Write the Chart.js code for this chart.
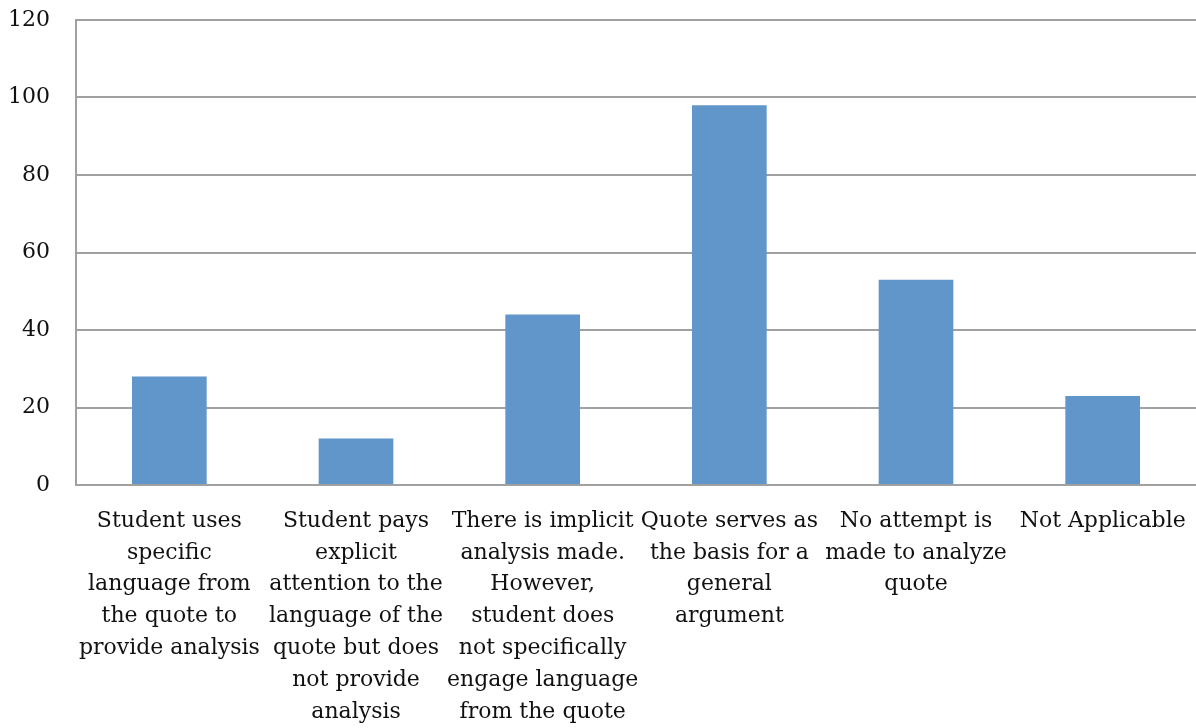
<!DOCTYPE html>
<html>
<head>
<meta charset="utf-8">
<script src="https://cdn.jsdelivr.net/npm/chart.js@4/dist/chart.umd.min.js"></script>
<style>
  html, body { margin: 0; padding: 0; background: #fff; }
  #wrap { width: 1196px; height: 728px; }
</style>
</head>
<body>
<div id="wrap"><canvas id="c" width="1196" height="728"></canvas></div>
<script>
// Category labels, split into the lines they wrap to under each bar
const categories = [
  ["Student uses", "specific", "language from", "the quote to", "provide analysis"],
  ["Student pays", "explicit", "attention to the", "language of the", "quote but does", "not provide", "analysis"],
  ["There is implicit", "analysis made.", "However,", "student does", "not specifically", "engage language", "from the quote"],
  ["Quote serves as", "the basis for a", "general", "argument"],
  ["No attempt is", "made to analyze", "quote"],
  ["Not Applicable"]
];
// Number of responses per category
const counts = [28, 12, 44, 98, 53, 23];
// Value axis ticks
const yTicks = [0, 20, 40, 60, 80, 100, 120];

const fontFamily = "'DejaVu Serif', 'Liberation Serif', serif";

new Chart(document.getElementById('c'), {
  type: 'bar',
  data: {
    labels: categories,
    datasets: [{
      data: counts,
      backgroundColor: '#6096CA',
      borderWidth: 0,
      categoryPercentage: 1,
      barPercentage: 0.4
    }]
  },
  options: {
    responsive: false,
    animation: false,
    layout: { padding: { top: 20, right: 0, bottom: 0, left: 0 } },
    plugins: { legend: { display: false }, tooltip: { enabled: false } },
    scales: {
      x: {
        grid: { display: false, drawTicks: false },
        border: { display: true, color: '#a0a0a0', width: 2 },
        ticks: {
          autoSkip: false,
          maxRotation: 0,
          minRotation: 0,
          padding: 20,
          color: '#111',
          font: { family: fontFamily, size: 22, lineHeight: 1.45 }
        },
        afterFit(scale) {
          scale.height = 243;
          scale.paddingLeft = 0;
          scale.paddingRight = 0;
        }
      },
      y: {
        min: 0,
        max: 120,
        afterBuildTicks(scale) { scale.ticks = yTicks.map(v => ({ value: v })); },
        grid: { color: '#a0a0a0', lineWidth: 2, drawTicks: false },
        border: { display: true, color: '#a0a0a0', width: 2 },
        ticks: {
          padding: 26,
          color: '#111',
          font: { family: fontFamily, size: 22 }
        },
        afterFit(scale) {
          scale.width = 76;
          scale.paddingTop = 0;
          scale.paddingBottom = 0;
        }
      }
    }
  }
});
</script>
</body>
</html>
